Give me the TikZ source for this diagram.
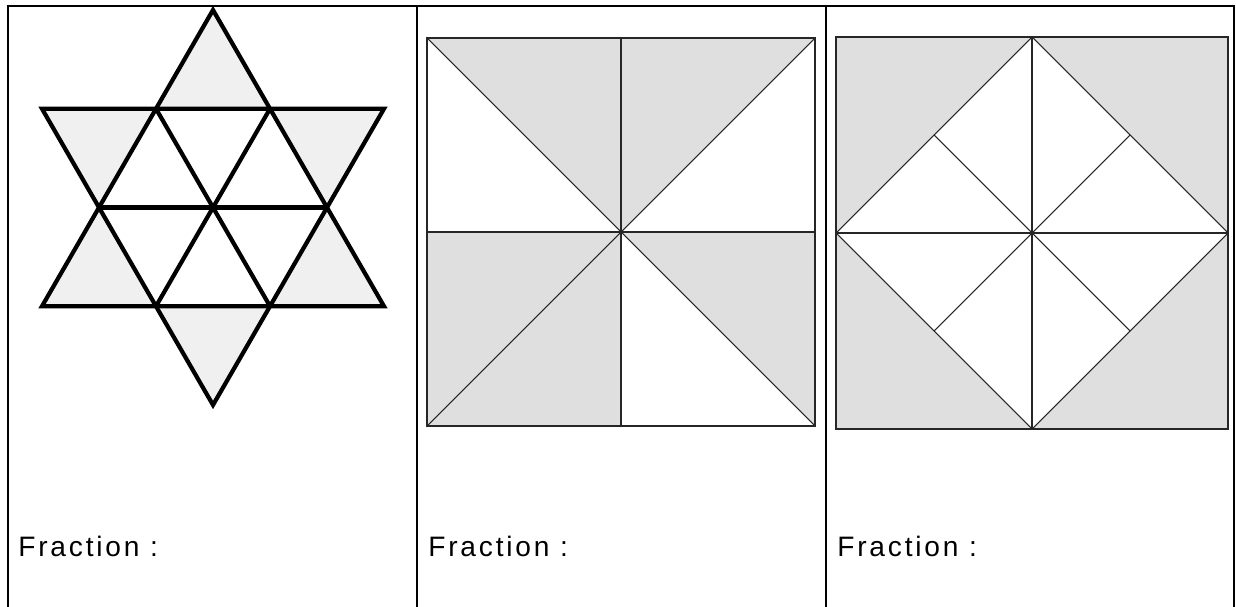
\documentclass[tikz,border=0pt]{standalone}
\usepackage{fontspec}
\newfontfamily\fracfont[LetterSpace=10]{Liberation Sans}
\definecolor{starfill}{gray}{0.94}
\definecolor{sqfill}{gray}{0.875}
\begin{document}
\begin{tikzpicture}[x=0.02cm,y=-0.02cm,
  every node/.style={font=\fracfont\fontsize{16}{19}\selectfont,inner sep=0pt,anchor=base west},
  cell/.style={line width=1.2pt},
  starline/.style={line width=2.4pt,line join=miter},
  sqline/.style={line width=0.6pt,black!85}]
  \useasboundingbox (0,0) rectangle (1236,607);
  \draw[cell] (8,607) -- (8,6) -- (1234,6) -- (1234,607);
  \draw[cell] (417,6) -- (417,607);
  \draw[cell] (826,6) -- (826,607);
  \begin{scope}[shift={(213,207.5)}]
    \fill[starfill] (0,-197.5) -- (57,-98.75) -- (-57,-98.75) -- cycle;
    \fill[starfill] (57,-98.75) -- (171,-98.75) -- (114,0) -- cycle;
    \fill[starfill] (114,0) -- (171,98.75) -- (57,98.75) -- cycle;
    \fill[starfill] (57,98.75) -- (0,197.5) -- (-57,98.75) -- cycle;
    \fill[starfill] (-57,98.75) -- (-171,98.75) -- (-114,0) -- cycle;
    \fill[starfill] (-114,0) -- (-171,-98.75) -- (-57,-98.75) -- cycle;
    \draw[starline] (0,-197.5) -- (171,98.75) -- (-171,98.75) -- cycle;
    \draw[starline] (0,197.5) -- (171,-98.75) -- (-171,-98.75) -- cycle;
    \draw[starline] (-57,-98.75) -- (57,98.75);
    \draw[starline] (57,-98.75) -- (-57,98.75);
    \draw[starline] (-114,0) -- (114,0);
  \end{scope}
  \node (frac1) at (18,556) {Fraction :};
  \begin{scope}[shift={(427,38)}]
    \fill[sqfill] (0,0) -- (388,0) -- (194,194) -- cycle;
    \fill[sqfill] (0,194) rectangle (194,388);
    \fill[sqfill] (194,194) -- (388,194) -- (388,388) -- cycle;
    \draw[sqline] (0,0) rectangle (388,388);
    \draw[sqline] (194,0) -- (194,388) (0,194) -- (388,194);
    \draw[sqline] (0,0) -- (388,388) (388,0) -- (0,388);
  \end{scope}
  \node (frac2) at (428,556) {Fraction :};
  \begin{scope}[shift={(836,37)}]
    \fill[sqfill] (0,0) rectangle (392,392);
    \fill[white] (196,0) -- (392,196) -- (196,392) -- (0,196) -- cycle;
    \draw[sqline] (0,0) rectangle (392,392);
    \draw[sqline] (196,0) -- (392,196) -- (196,392) -- (0,196) -- cycle;
    \draw[sqline] (196,0) -- (196,392) (0,196) -- (392,196);
    \draw[sqline] (98,98) -- (294,294) (294,98) -- (98,294);
  \end{scope}
  \node (frac3) at (837,556) {Fraction :};
\end{tikzpicture}
\end{document}
